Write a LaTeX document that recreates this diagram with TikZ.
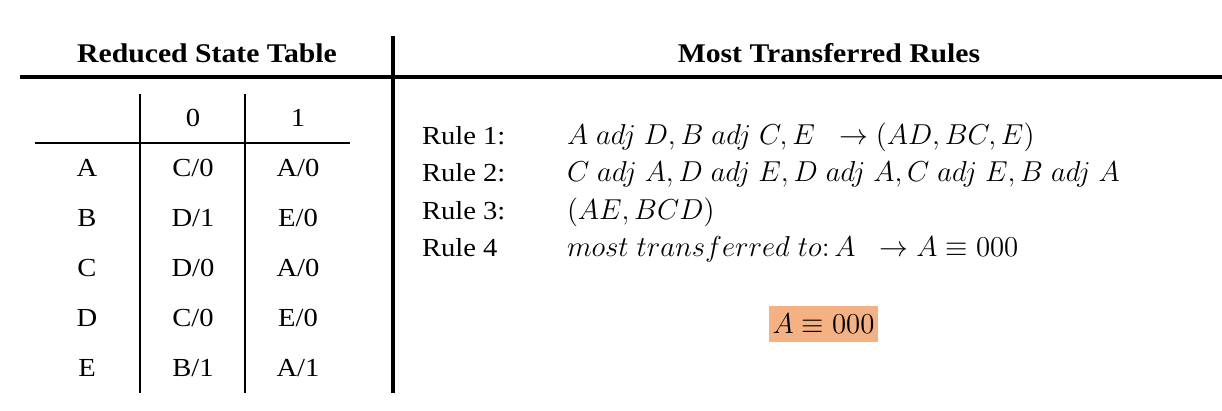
\documentclass[tikz,border=0pt]{standalone}
\usepackage{amsmath}
\usepackage{fontspec}
\setmainfont{Liberation Serif}[FakeStretch=1.1]
\usepackage{tikz}
\usepackage{xcolor}
\definecolor{hilite}{RGB}{244,177,131}

\begin{document}
\begin{tikzpicture}[x=0.5pt,y=-0.5pt,
    every node/.style={inner sep=0pt, outer sep=0pt, font=\fontsize{13}{15}\selectfont},
    head/.style={anchor=base, font=\fontsize{13.5}{16}\selectfont\bfseries},
    cell/.style={anchor=base},
    rulelbl/.style={anchor=base west},
    rulefx/.style={anchor=base west, font=\fontsize{14.6}{17}\selectfont}]
\useasboundingbox (0,0) rectangle (1222,411);

% Headings and heavy rules
\node[head] (lefthead) at (207,63) {Reduced State Table};
\node[head] (righthead) at (829,63) {Most Transferred Rules};
\draw[line width=2pt] (20,77) -- (1222,77);
\draw[line width=2pt] (393,36) -- (393,393);

% State table grid
\draw[line width=1pt] (140,94) -- (140,393);
\draw[line width=1pt] (245,94) -- (245,393);
\draw[line width=1pt] (35,143) -- (350,143);

% Column heads
\node[cell] (col0) at (193,127) {0};
\node[cell] (col1) at (298,127) {1};

% Rows: state, next state / output for input 0 and 1
\foreach \st/\nz/\no [count=\i] in {A/C\slash 0/A\slash 0, B/D\slash 1/E\slash 0,
    C/D\slash 0/A\slash 0, D/C\slash 0/E\slash 0, E/B\slash 1/A\slash 1} {
  \node[cell] (st\i) at (87,{127+50*\i}) {\st};
  \node[cell] (nz\i) at (193,{127+50*\i}) {\nz};
  \node[cell] (no\i) at (298,{127+50*\i}) {\no};
}

% Rules
\node[rulelbl] (r1) at (422,145) {Rule 1:};
\node[rulelbl] (r2) at (422,182) {Rule 2:};
\node[rulelbl] (r3) at (422,220) {Rule 3:};
\node[rulelbl] (r4) at (422,257) {Rule 4};

\node[rulefx] (f1) at (567,145) {$A\ adj\ D, B\ adj\ C, E\ \ \rightarrow (AD, BC, E)$};
\node[rulefx] (f2) at (567,182) {$C\ adj\ A, D\ adj\ E, D\ adj\ A, C\ adj\ E, B\ adj\ A$};
\node[rulefx] (f3) at (567,220) {$(AE, BCD)$};
\node[rulefx] (f4) at (567,257) {$most\ transferred\ to{:}\,A\ \ \rightarrow A \equiv 000$};

% Result
\node[fill=hilite, minimum width=54.5pt, minimum height=18pt,
      font=\fontsize{14.6}{17}\selectfont] (result) at (823.5,324) {$A \equiv 000$};
\end{tikzpicture}
\end{document}
